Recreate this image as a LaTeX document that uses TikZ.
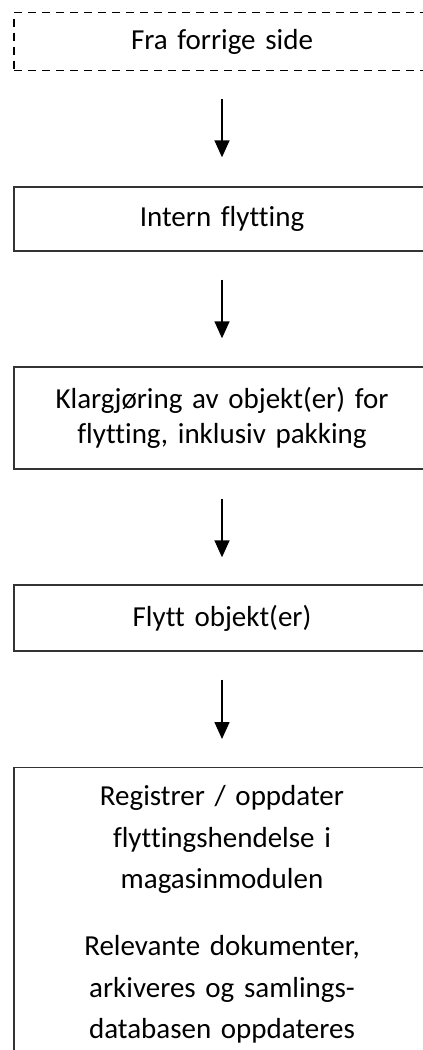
\documentclass[tikz,border=0pt]{standalone}
\usepackage{fontspec}
\setmainfont{Carlito}[Ligatures={NoCommon}]
\usetikzlibrary{arrows.meta}

\tikzset{
  flowbox/.style={draw=black!80, line width=1.4pt, minimum width=416pt,
    inner sep=0pt, text width=400pt, align=center,
    font=\fontsize{29pt}{35pt}\selectfont},
  pagebox/.style={flowbox, draw=black, line width=1.8pt,
    dash pattern=on 8pt off 6pt},
  flowarrow/.style={draw=black, line width=1.5pt,
    -{Triangle[length=17pt,width=15pt]}}
}

\begin{document}
\begin{tikzpicture}[x=1pt,y=-1pt]
  \useasboundingbox (0,0) rectangle (423,1050);
  \clip (0,0) rectangle (423,1050);

  % process steps, top to bottom
  \node[pagebox, minimum height=58pt] (prev) at (222,41.5) {Fra forrige side};
  \node[flowbox, minimum height=64pt] (intern) at (222,219) {Intern flytting};
  \node[flowbox, minimum height=102pt] (prep) at (222,418)
    {Klargjøring av objekt(er) for\\flytting, inklusiv pakking};
  \node[flowbox, minimum height=66pt] (move) at (222,618) {Flytt objekt(er)};
  \node[flowbox, anchor=north, text height=38pt, text depth=320pt,
        font=\fontsize{29pt}{41.5pt}\selectfont] (register) at (222,767)
    {Registrer / oppdater\\flyttingshendelse i\\magasinmodulen\\[25.5pt]
     Relevante dokumenter,\\arkiveres og samlings-\\databasen oppdateres};

  % connectors between the steps
  \draw[flowarrow] ([yshift=-28pt]prev.south)     -- ([yshift=29pt]intern.north);
  \draw[flowarrow] ([yshift=-28pt]intern.south)   -- ([yshift=28pt]prep.north);
  \draw[flowarrow] ([yshift=-29pt]prep.south)     -- ([yshift=27pt]move.north);
  \draw[flowarrow] ([yshift=-28pt]move.south)     -- ([yshift=28pt]register.north);
\end{tikzpicture}
\end{document}
